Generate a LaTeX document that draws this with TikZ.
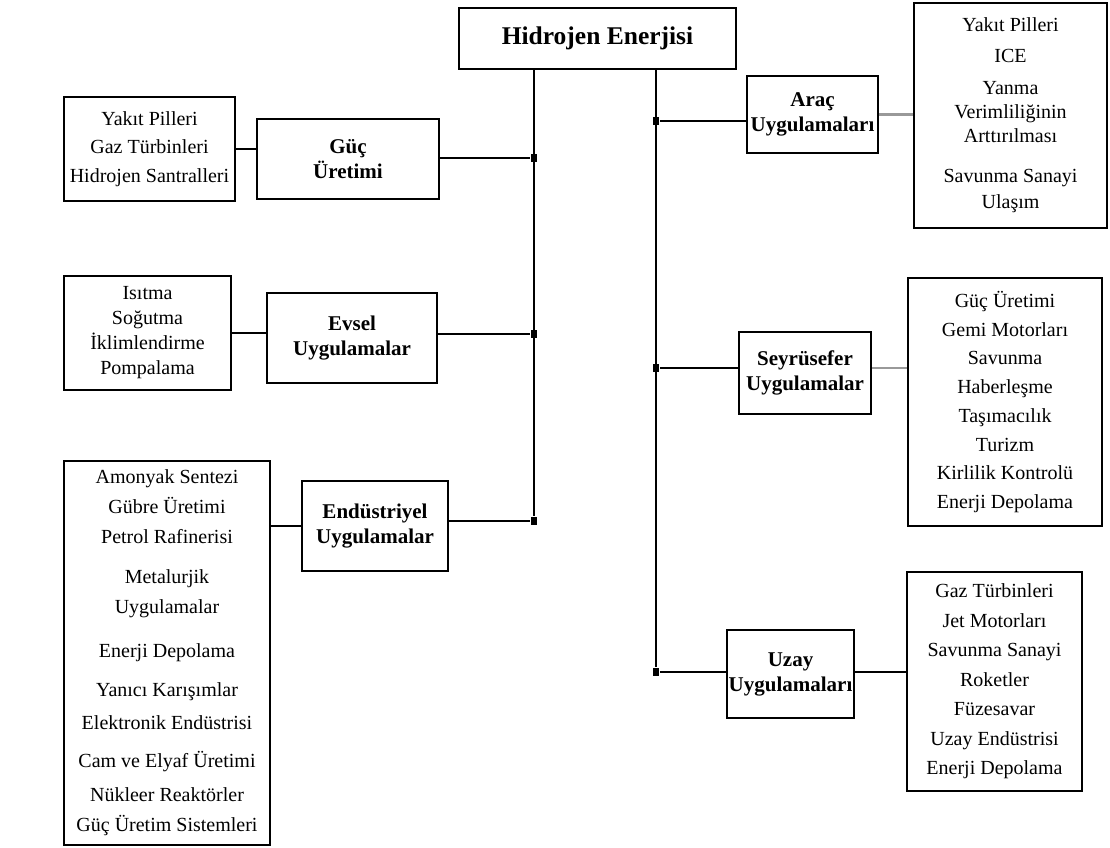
\documentclass[tikz,border=0pt]{standalone}
\usepackage{fontspec}
\setmainfont{Liberation Serif}
\usepackage{tikz}
\usetikzlibrary{calc}

\begin{document}
\begin{tikzpicture}[x=1pt,y=-1pt,line width=2.2pt]
            \tikzstyle{every node}=[draw,rectangle,align=center,inner sep=1pt]
            \tikzstyle{liste}=[font=\fontsize{20}{28.5}\selectfont]
            \tikzstyle{baslik}=[font=\fontsize{21}{25}\selectfont\bfseries]
            \tikzstyle{nokta}=[draw=none,fill=black,minimum width=6pt,minimum height=8pt,inner sep=0pt]
            \useasboundingbox (0,0) rectangle (1110,847);
            \node[minimum width=277pt,minimum height=61pt,font=\fontsize{25.5}{30}\selectfont\bfseries] (hid) at (597.5,38.5) {Hidrojen Enerjisi};
            % sol taraf
            \node[baslik,minimum width=182pt,minimum height=80pt] (guc) at (348,159) {Güç\\Üretimi};
            \node[liste,minimum width=171pt,minimum height=104pt] (gucl) at (149.5,149) {Yakıt Pilleri\\Gaz Türbinleri\\Hidrojen Santralleri};
            \node[baslik,minimum width=170pt,minimum height=90pt] (evs) at (352,338) {Evsel\\Uygulamalar};
            \node[liste,font=\fontsize{20}{25}\selectfont,minimum width=167pt,minimum height=114pt] (evsl) at (147.5,333) {Isıtma\\Soğutma\\İklimlendirme\\Pompalama};
            \node[baslik,minimum width=146pt,minimum height=90pt] (end) at (375,526) {Endüstriyel\\Uygulamalar};
            \node[liste,font=\fontsize{20}{30}\selectfont,minimum width=206pt,minimum height=384pt] (endl) at (167,653) {Amonyak Sentezi\\Gübre Üretimi\\Petrol Rafinerisi\\[10pt]Metalurjik\\Uygulamalar\\[14pt]Enerji Depolama\\[9pt]Yanıcı Karışımlar\\[3pt]Elektronik Endüstrisi\\[8pt]Cam ve Elyaf Üretimi\\[4pt]Nükleer Reaktörler\\Güç Üretim Sistemleri};
            % sag taraf
            \node[baslik,minimum width=131pt,minimum height=77pt] (arac) at (812.5,114.5) {Araç\\Uygulamaları};
            \node[liste,font=\fontsize{20}{24}\selectfont,minimum width=193pt,minimum height=225pt] (aracl) at (1010.5,115.5) {Yakıt Pilleri\\[7pt]ICE\\[8pt]Yanma\\Verimliliğinin\\Arttırılması\\[16pt]Savunma Sanayi\\[2pt]Ulaşım};
            \node[baslik,minimum width=132pt,minimum height=82pt] (sey) at (805,373) {Seyrüsefer\\Uygulamalar};
            \node[liste,font=\fontsize{20}{28.7}\selectfont,minimum width=194pt,minimum height=248pt] (seyl) at (1005,402) {Güç Üretimi\\Gemi Motorları\\Savunma\\Haberleşme\\Taşımacılık\\Turizm\\Kirlilik Kontrolü\\Enerji Depolama};
            \node[baslik,minimum width=127pt,minimum height=88pt] (uzay) at (790.5,674) {Uzay\\Uygulamaları};
            \node[liste,font=\fontsize{20}{29.5}\selectfont,minimum width=175pt,minimum height=219pt] (uzayl) at (994.5,681.5) {Gaz Türbinleri\\Jet Motorları\\Savunma Sanayi\\Roketler\\Füzesavar\\Uzay Endüstrisi\\Enerji Depolama};
            % baglanti noktalari
            \node[nokta] (d1) at (534,158) {};
            \node[nokta] (d2) at (534,334) {};
            \node[nokta] (d3) at (534,521) {};
            \node[nokta] (d4) at (656,121) {};
            \node[nokta] (d5) at (656,368) {};
            \node[nokta] (d6) at (656,672) {};
            \draw (hid.south -| d3) -- (d3);
            \draw (hid.south -| d6) -- (d6);
            \draw (d1) -- (d1 -| guc.east);
            \draw (d2) -- (d2 -| evs.east);
            \draw (d3) -- (d3 -| end.east);
            \draw (d4) -- (d4 -| arac.west);
            \draw (d5) -- (d5 -| sey.west);
            \draw (d6) -- (d6 -| uzay.west);
            \draw (gucl.east) -- (gucl.east -| guc.west);
            \draw (evsl.east) -- (evsl.east -| evs.west);
            \draw (end.west) -- (end.west -| endl.east);
            \draw[black!40] (arac.east) -- (arac.east -| aracl.west);
            \draw[black!40] (d5 -| sey.east) -- (d5 -| seyl.west);
            \draw (d6 -| uzay.east) -- (d6 -| uzayl.west);
        \end{tikzpicture}
\end{document}
